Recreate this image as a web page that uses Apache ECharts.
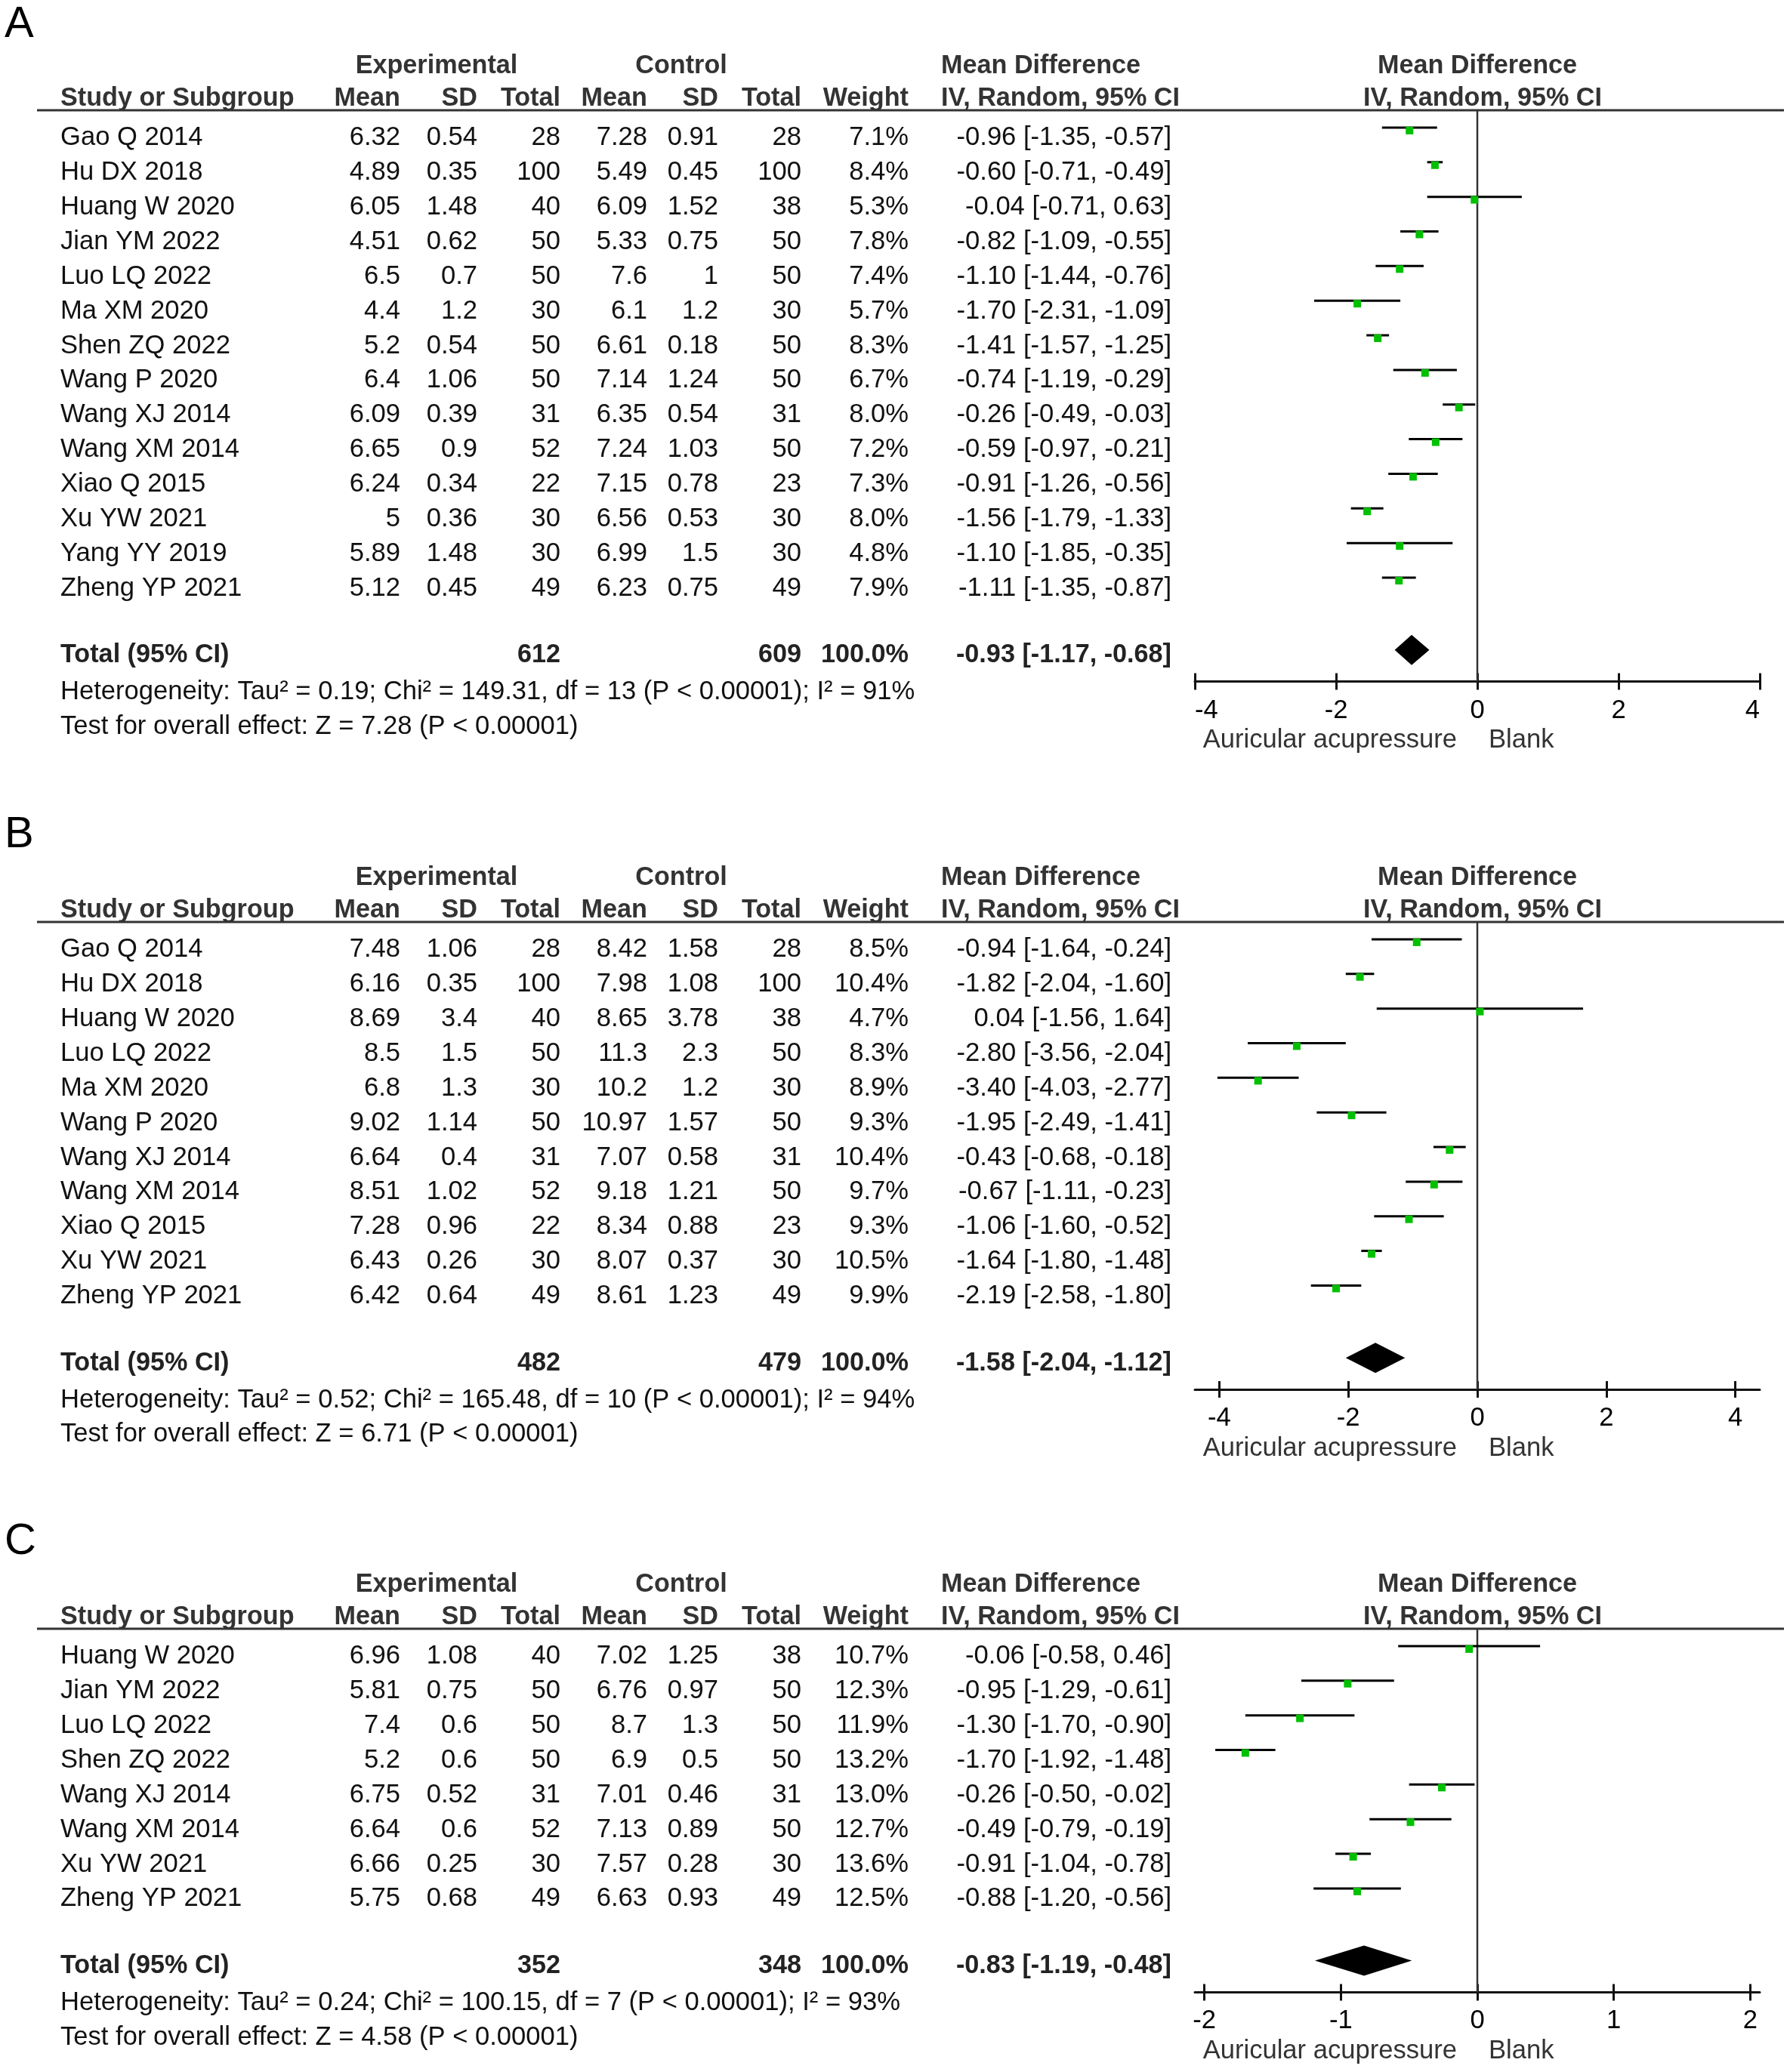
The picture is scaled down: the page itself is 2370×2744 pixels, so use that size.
<!DOCTYPE html>
<html>
<head>
<meta charset="utf-8">
<script src="https://cdn.jsdelivr.net/npm/echarts@6/dist/echarts.min.js"></script>
<style>
html,body{margin:0;padding:0;background:#fff;}
#chart{width:2370px;height:2744px;}
</style>
</head>
<body>
<div id="chart"></div>
<script>
// ---------------- DATA ----------------
// Panel A
const A_study = ['Gao Q 2014','Hu DX 2018','Huang W 2020','Jian YM 2022','Luo LQ 2022','Ma XM 2020','Shen ZQ 2022','Wang P 2020','Wang XJ 2014','Wang XM 2014','Xiao Q 2015','Xu YW 2021','Yang YY 2019','Zheng YP 2021'];
const A_expMean = [6.32,4.89,6.05,4.51,6.5,4.4,5.2,6.4,6.09,6.65,6.24,5,5.89,5.12];
const A_expSD = [0.54,0.35,1.48,0.62,0.7,1.2,0.54,1.06,0.39,0.9,0.34,0.36,1.48,0.45];
const A_expN = [28,100,40,50,50,30,50,50,31,52,22,30,30,49];
const A_ctlMean = [7.28,5.49,6.09,5.33,7.6,6.1,6.61,7.14,6.35,7.24,7.15,6.56,6.99,6.23];
const A_ctlSD = [0.91,0.45,1.52,0.75,1,1.2,0.18,1.24,0.54,1.03,0.78,0.53,1.5,0.75];
const A_ctlN = [28,100,38,50,50,30,50,50,31,50,23,30,30,49];
const A_weight = [7.1,8.4,5.3,7.8,7.4,5.7,8.3,6.7,8.0,7.2,7.3,8.0,4.8,7.9];
const A_md = [-0.96,-0.60,-0.04,-0.82,-1.10,-1.70,-1.41,-0.74,-0.26,-0.59,-0.91,-1.56,-1.10,-1.11];
const A_lo = [-1.35,-0.71,-0.71,-1.09,-1.44,-2.31,-1.57,-1.19,-0.49,-0.97,-1.26,-1.79,-1.85,-1.35];
const A_hi = [-0.57,-0.49,0.63,-0.55,-0.76,-1.09,-1.25,-0.29,-0.03,-0.21,-0.56,-1.33,-0.35,-0.87];
const A_total = {expN:612, ctlN:609, weight:100.0, md:-0.93, lo:-1.17, hi:-0.68};
const A_het = 'Heterogeneity: Tau² = 0.19; Chi² = 149.31, df = 13 (P < 0.00001); I² = 91%';
const A_test = 'Test for overall effect: Z = 7.28 (P < 0.00001)';
const A_ticks = [-4,-2,0,2,4];

// Panel B
const B_study = ['Gao Q 2014','Hu DX 2018','Huang W 2020','Luo LQ 2022','Ma XM 2020','Wang P 2020','Wang XJ 2014','Wang XM 2014','Xiao Q 2015','Xu YW 2021','Zheng YP 2021'];
const B_expMean = [7.48,6.16,8.69,8.5,6.8,9.02,6.64,8.51,7.28,6.43,6.42];
const B_expSD = [1.06,0.35,3.4,1.5,1.3,1.14,0.4,1.02,0.96,0.26,0.64];
const B_expN = [28,100,40,50,30,50,31,52,22,30,49];
const B_ctlMean = [8.42,7.98,8.65,11.3,10.2,10.97,7.07,9.18,8.34,8.07,8.61];
const B_ctlSD = [1.58,1.08,3.78,2.3,1.2,1.57,0.58,1.21,0.88,0.37,1.23];
const B_ctlN = [28,100,38,50,30,50,31,50,23,30,49];
const B_weight = [8.5,10.4,4.7,8.3,8.9,9.3,10.4,9.7,9.3,10.5,9.9];
const B_md = [-0.94,-1.82,0.04,-2.80,-3.40,-1.95,-0.43,-0.67,-1.06,-1.64,-2.19];
const B_lo = [-1.64,-2.04,-1.56,-3.56,-4.03,-2.49,-0.68,-1.11,-1.60,-1.80,-2.58];
const B_hi = [-0.24,-1.60,1.64,-2.04,-2.77,-1.41,-0.18,-0.23,-0.52,-1.48,-1.80];
const B_total = {expN:482, ctlN:479, weight:100.0, md:-1.58, lo:-2.04, hi:-1.12};
const B_het = 'Heterogeneity: Tau² = 0.52; Chi² = 165.48, df = 10 (P < 0.00001); I² = 94%';
const B_test = 'Test for overall effect: Z = 6.71 (P < 0.00001)';
const B_ticks = [-4,-2,0,2,4];

// Panel C
const C_study = ['Huang W 2020','Jian YM 2022','Luo LQ 2022','Shen ZQ 2022','Wang XJ 2014','Wang XM 2014','Xu YW 2021','Zheng YP 2021'];
const C_expMean = [6.96,5.81,7.4,5.2,6.75,6.64,6.66,5.75];
const C_expSD = [1.08,0.75,0.6,0.6,0.52,0.6,0.25,0.68];
const C_expN = [40,50,50,50,31,52,30,49];
const C_ctlMean = [7.02,6.76,8.7,6.9,7.01,7.13,7.57,6.63];
const C_ctlSD = [1.25,0.97,1.3,0.5,0.46,0.89,0.28,0.93];
const C_ctlN = [38,50,50,50,31,50,30,49];
const C_weight = [10.7,12.3,11.9,13.2,13.0,12.7,13.6,12.5];
const C_md = [-0.06,-0.95,-1.30,-1.70,-0.26,-0.49,-0.91,-0.88];
const C_lo = [-0.58,-1.29,-1.70,-1.92,-0.50,-0.79,-1.04,-1.20];
const C_hi = [0.46,-0.61,-0.90,-1.48,-0.02,-0.19,-0.78,-0.56];
const C_total = {expN:352, ctlN:348, weight:100.0, md:-0.83, lo:-1.19, hi:-0.48};
const C_het = 'Heterogeneity: Tau² = 0.24; Chi² = 100.15, df = 7 (P < 0.00001); I² = 93%';
const C_test = 'Test for overall effect: Z = 4.58 (P < 0.00001)';
const C_ticks = [-2,-1,0,1,2];

// Header labels
const HEAD1 = ['Experimental','Control','Mean Difference','Mean Difference'];
const HEAD2 = ['Study or Subgroup','Mean','SD','Total','Mean','SD','Total','Weight','IV, Random, 95% CI','IV, Random, 95% CI'];
const TOTAL_LABEL = 'Total (95% CI)';
const FAVOURS = ['Auricular acupressure','Blank'];

// ---------------- LAYOUT ----------------
const FONT = '"Liberation Sans", Arial, Helvetica, sans-serif';
const FS = 34.6;
const FSB = 34.2;
const ROW_H = 45.85;
const TXT_DY = 14;
const PLOT_LEFT = 1582, PLOT_W = 748, ZERO_X = 1956;
const COLS = [
  {x:80, align:'left'}, {x:530, align:'right'}, {x:632, align:'right'}, {x:742, align:'right'},
  {x:857, align:'right'}, {x:951, align:'right'}, {x:1061, align:'right'}, {x:1203, align:'right'},
  {x:1551, align:'right'}
];

const panels = [
  {label:'A', labelY:33, lineY:146, study:A_study, expMean:A_expMean, expSD:A_expSD, expN:A_expN, ctlMean:A_ctlMean, ctlSD:A_ctlSD, ctlN:A_ctlN, weight:A_weight, md:A_md, lo:A_lo, hi:A_hi, total:A_total, het:A_het, test:A_test, ticks:A_ticks, xMin:-4, xMax:4, edgeAlign:true},
  {label:'B', labelY:1106, lineY:1221, study:B_study, expMean:B_expMean, expSD:B_expSD, expN:B_expN, ctlMean:B_ctlMean, ctlSD:B_ctlSD, ctlN:B_ctlN, weight:B_weight, md:B_md, lo:B_lo, hi:B_hi, total:B_total, het:B_het, test:B_test, ticks:B_ticks, xMin:-4.38, xMax:4.38, edgeAlign:false},
  {label:'C', labelY:2042, lineY:2157, study:C_study, expMean:C_expMean, expSD:C_expSD, expN:C_expN, ctlMean:C_ctlMean, ctlSD:C_ctlSD, ctlN:C_ctlN, weight:C_weight, md:C_md, lo:C_lo, hi:C_hi, total:C_total, het:C_het, test:C_test, ticks:C_ticks, xMin:-2.07, xMax:2.07, edgeAlign:false}
];

const f2 = v => v.toFixed(2);
const ciText = (m,l,h) => f2(m) + ' [' + f2(l) + ', ' + f2(h) + ']';
const fontStr = (bold, size) => (bold ? 'bold ' : '') + (size || (bold ? FSB : FS)) + 'px ' + FONT;

const grids = [], xAxes = [], yAxes = [], series = [], graphics = [];

function gText(x, y, text, align, bold, color, size) {
  graphics.push({type:'text', x:x, y:y, silent:true,
    style:{text:text, align:align, verticalAlign:'middle', font:fontStr(bold,size), fill:color}});
}

panels.forEach((P, pi) => {
  const n = P.study.length;
  const yMax = n + 2.5;
  const gh = yMax * ROW_H;
  const gF = grids.length;
  grids.push({left:PLOT_LEFT, width:PLOT_W, top:P.lineY, height:gh, containLabel:false});
  const gT = grids.length;
  grids.push({left:0, width:2370, top:P.lineY, height:gh, containLabel:false});

  const xF = xAxes.length;
  const lab = {show:true, customValues:P.ticks, margin:21, color:'#000', fontSize:FS, fontFamily:FONT};
  if (P.edgeAlign) { lab.alignMinLabel = 'left'; lab.alignMaxLabel = 'right'; }
  xAxes.push({gridIndex:gF, type:'value', position:'bottom', min:P.xMin, max:P.xMax,
    axisLine:{show:true, onZero:false, lineStyle:{color:'#111', width:3}},
    axisTick:{show:true, inside:false, length:11, customValues:P.ticks, lineStyle:{color:'#111', width:3}},
    axisLabel:lab,
    splitLine:{show:false}});
  xAxes.push({gridIndex:gF, type:'value', position:'bottom', min:P.xMin, max:P.xMax,
    axisLine:{show:false, onZero:false},
    axisTick:{show:true, inside:true, length:11, customValues:P.ticks, lineStyle:{color:'#111', width:3}},
    axisLabel:{show:false}, splitLine:{show:false}});
  const xT = xAxes.length;
  xAxes.push({gridIndex:gT, type:'value', min:0, max:2370, show:false});

  const yF = yAxes.length;
  yAxes.push({gridIndex:gF, type:'value', min:0, max:yMax, inverse:true, show:false});
  const yT = yAxes.length;
  yAxes.push({gridIndex:gT, type:'value', min:0, max:yMax, inverse:true, show:false});

  // zero line
  series.push({type:'line', xAxisIndex:xF, yAxisIndex:yF, data:[[0,0],[0,yMax]], symbol:'none', silent:true,
    lineStyle:{color:'#333', width:2.5}, z:2});

  // study CIs + squares
  series.push({type:'custom', xAxisIndex:xF, yAxisIndex:yF, silent:true, z:3,
    data:P.md.map((m,i)=>[m, i, P.lo[i], P.hi[i], P.weight[i]]),
    encode:{x:[0,2,3], y:1},
    renderItem:(params, api) => {
      const y = api.value(1) + 0.5;
      const c = api.coord([api.value(0), y]);
      const l = api.coord([api.value(2), y]);
      const h = api.coord([api.value(3), y]);
      const s = 10;
      return {type:'group', children:[
        {type:'line', shape:{x1:l[0], y1:l[1], x2:h[0], y2:h[1]}, style:{stroke:'#000', lineWidth:3}},
        {type:'rect', shape:{x:c[0]-s/2, y:c[1]-1, width:s, height:s}, style:{fill:'#00c000'}}
      ]};
    }});

  // total diamond
  series.push({type:'custom', xAxisIndex:xF, yAxisIndex:yF, silent:true, z:3,
    data:[[P.total.md, n+1, P.total.lo, P.total.hi]],
    encode:{x:[0,2,3], y:1},
    renderItem:(params, api) => {
      const y = api.value(1) + 0.5;
      const c = api.coord([api.value(0), y]);
      const l = api.coord([api.value(2), y]);
      const h = api.coord([api.value(3), y]);
      const cy = c[1] + 4, hh = 20;
      return {type:'polygon', shape:{points:[[l[0],cy],[c[0],cy-hh],[h[0],cy],[c[0],cy+hh]]}, style:{fill:'#000'}};
    }});

  // table rows
  series.push({type:'custom', xAxisIndex:xT, yAxisIndex:yT, silent:true,
    data:P.study.map((s,i)=>[0, i]),
    encode:{x:0, y:1},
    renderItem:(params, api) => {
      const i = params.dataIndex;
      const y = api.coord([0, i + 0.5])[1] + TXT_DY;
      const cells = [P.study[i], String(P.expMean[i]), String(P.expSD[i]), String(P.expN[i]),
        String(P.ctlMean[i]), String(P.ctlSD[i]), String(P.ctlN[i]), P.weight[i].toFixed(1) + '%',
        ciText(P.md[i], P.lo[i], P.hi[i])];
      return {type:'group', children:cells.map((t,k)=>({type:'text',
        style:{text:t, x:api.coord([COLS[k].x, 0])[0], y:y, align:COLS[k].align, verticalAlign:'middle',
          font:fontStr(false), fill:'#111'}}))};
    }});

  // total + heterogeneity + test rows
  series.push({type:'custom', xAxisIndex:xT, yAxisIndex:yT, silent:true,
    data:[[0, n+1]],
    encode:{x:0, y:1},
    renderItem:(params, api) => {
      const yTot = api.coord([0, n + 1.5])[1] + TXT_DY - 3;
      const yHet = api.coord([0, n + 2.5])[1] + TXT_DY;
      const yTest = api.coord([0, n + 3.5])[1] + TXT_DY;
      const T = P.total;
      const tot = [[0, TOTAL_LABEL],[3, String(T.expN)],[6, String(T.ctlN)],[7, T.weight.toFixed(1)+'%'],[8, ciText(T.md,T.lo,T.hi)]];
      const ch = tot.map(([k,t])=>({type:'text', style:{text:t, x:api.coord([COLS[k].x,0])[0], y:yTot,
        align:COLS[k].align, verticalAlign:'middle', font:fontStr(true), fill:'#222'}}));
      ch.push({type:'text', style:{text:P.het, x:api.coord([COLS[0].x,0])[0], y:yHet, align:'left', verticalAlign:'middle', font:fontStr(false), fill:'#111'}});
      ch.push({type:'text', style:{text:P.test, x:api.coord([COLS[0].x,0])[0], y:yTest, align:'left', verticalAlign:'middle', font:fontStr(false), fill:'#111'}});
      return {type:'group', children:ch};
    }});

  // headers
  const h1 = P.lineY - 58, h2 = P.lineY - 15;
  gText(578, h1, HEAD1[0], 'center', true, '#333');
  gText(902, h1, HEAD1[1], 'center', true, '#333');
  gText(1246, h1, HEAD1[2], 'left', true, '#333');
  gText(ZERO_X, h1, HEAD1[3], 'center', true, '#333');
  gText(80, h2, HEAD2[0], 'left', true, '#333');
  for (let k = 1; k <= 7; k++) gText(COLS[k].x, h2, HEAD2[k], 'right', true, '#333');
  gText(1246, h2, HEAD2[8], 'left', true, '#333');
  gText(1963, h2, HEAD2[9], 'center', true, '#333');
  // header rule
  graphics.push({type:'line', silent:true, shape:{x1:49, y1:P.lineY, x2:2362, y2:P.lineY}, style:{stroke:'#333', lineWidth:3}, z:10});
  // panel label
  gText(6, P.labelY, P.label, 'left', false, '#000', 58);
  // favours labels
  const axisY = P.lineY + gh;
  gText(1929, axisY + 78, FAVOURS[0], 'right', false, '#333');
  gText(1971, axisY + 78, FAVOURS[1], 'left', false, '#333');
});

const chart = echarts.init(document.getElementById('chart'), null, {renderer:'canvas'});
chart.setOption({
  backgroundColor:'#fff',
  animation:false,
  grid:grids, xAxis:xAxes, yAxis:yAxes, series:series, graphic:graphics
});
</script>
</body>
</html>
